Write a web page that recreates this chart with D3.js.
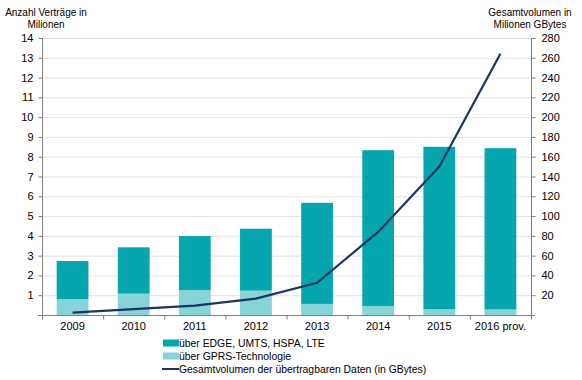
<!DOCTYPE html>
<html>
<head>
<meta charset="utf-8">
<script src="https://cdn.jsdelivr.net/npm/d3@7"></script>
<style>
  body { margin: 0; background: #fff; }
  text { font-family: Arial, "Liberation Sans", sans-serif; fill: #000; }
</style>
</head>
<body>
<svg id="chart" width="582" height="380"></svg>
<script>
const years = ['2009', '2010', '2011', '2012', '2013', '2014', '2015', '2016 prov.'];
const gprs = [0.8, 1.08, 1.26, 1.23, 0.56, 0.45, 0.29, 0.28];
const edge = [1.93, 2.34, 2.73, 3.13, 5.11, 7.88, 8.21, 8.15];
const volume = [2.5, 6, 9.5, 16.5, 32.5, 84, 150, 264];
const leftTicks = d3.range(1, 15);
const rightTicks = d3.range(20, 281, 20);

const width = 582;
const margin = { top: 38, right: 51, bottom: 65, left: 42 };
const x0 = margin.left;
const x1 = width - margin.right;
const yTop = margin.top;
const yBottom = 315;

const svg = d3.select('#chart');

const x = d3.scaleBand().domain(years).range([x0, x1]).paddingInner(0.48).paddingOuter(0.24);
const xBoundary = d3.scaleLinear().domain([0, years.length]).range([x0, x1]);
const yLeft = d3.scaleLinear().domain([0, 14]).range([yBottom, yTop]);
const yRight = d3.scaleLinear().domain([0, 280]).range([yBottom, yTop]);

// gridlines
svg.append('g')
  .selectAll('line')
  .data(leftTicks)
  .enter()
  .append('line')
  .attr('x1', x0)
  .attr('x2', x1)
  .attr('y1', d => yLeft(d) + 0.5)
  .attr('y2', d => yLeft(d) + 0.5)
  .attr('stroke', '#e3e3e3')
  .attr('stroke-width', 1);

// stacked bars
const stack = years.map((y, i) => ({ year: y, gprs: gprs[i], edge: edge[i] }));
const gBars = svg.append('g');
gBars.selectAll('rect.gprs')
  .data(stack)
  .enter()
  .append('rect')
  .attr('class', 'gprs')
  .attr('x', d => x(d.year))
  .attr('width', x.bandwidth())
  .attr('y', d => yLeft(d.gprs))
  .attr('height', d => yLeft(0) - yLeft(d.gprs))
  .attr('fill', '#86d3d8');
gBars.selectAll('rect.edge')
  .data(stack)
  .enter()
  .append('rect')
  .attr('class', 'edge')
  .attr('x', d => x(d.year))
  .attr('width', x.bandwidth())
  .attr('y', d => yLeft(d.gprs + d.edge))
  .attr('height', d => yLeft(d.gprs) - yLeft(d.gprs + d.edge))
  .attr('fill', '#05a6ad');

// line
const line = d3.line()
  .x((d, i) => x(years[i]) + x.bandwidth() / 2)
  .y(d => yRight(d));
svg.append('path')
  .datum(volume)
  .attr('d', line)
  .attr('fill', 'none')
  .attr('stroke', '#1c3566')
  .attr('stroke-width', 2.2);

// axes
const axisColor = '#7f7f7f';
const leftAxis = svg.append('g')
  .attr('transform', `translate(${x0 + 0.5},0)`)
  .call(d3.axisLeft(yLeft).tickValues(leftTicks).tickSize(4).tickPadding(5));
const rightAxis = svg.append('g')
  .attr('transform', `translate(${x1 + 0.5},0)`)
  .call(d3.axisRight(yRight).tickValues(rightTicks).tickSize(4).tickPadding(6));
const xAxis = svg.append('g')
  .attr('transform', `translate(0,${yBottom + 0.5})`)
  .call(d3.axisBottom(x).tickSize(0).tickPadding(7));
xAxis.append('g')
  .selectAll('line')
  .data(d3.range(0, years.length + 1))
  .enter()
  .append('line')
  .attr('x1', d => xBoundary(d) + 0.5)
  .attr('x2', d => xBoundary(d) + 0.5)
  .attr('y1', 0)
  .attr('y2', 4)
  .attr('stroke', axisColor);

[leftAxis, rightAxis, xAxis].forEach(g => {
  g.select('.domain').remove();
  g.selectAll('.tick line').attr('stroke', axisColor);
  g.selectAll('.tick text').attr('font-size', 11).attr('font-family', 'Arial, "Liberation Sans", sans-serif').attr('fill', '#000');
});
svg.append('line').attr('x1', x0 + 0.5).attr('x2', x0 + 0.5).attr('y1', yTop).attr('y2', yBottom + 4).attr('stroke', axisColor);
svg.append('line').attr('x1', x1 + 0.5).attr('x2', x1 + 0.5).attr('y1', yTop).attr('y2', yBottom + 4).attr('stroke', axisColor);
svg.append('line').attr('x1', x0 - 4).attr('x2', x1 + 4).attr('y1', yBottom + 0.5).attr('y2', yBottom + 0.5).attr('stroke', axisColor);

// axis titles
const leftTitle = svg.append('text').attr('text-anchor', 'middle').attr('font-size', 10);
leftTitle.append('tspan').attr('x', 46).attr('y', 16).text('Anzahl Verträge in');
leftTitle.append('tspan').attr('x', 46).attr('y', 28).text('Milionen');
const rightTitle = svg.append('text').attr('text-anchor', 'middle').attr('font-size', 10);
rightTitle.append('tspan').attr('x', 530).attr('y', 16).text('Gesamtvolumen in');
rightTitle.append('tspan').attr('x', 530).attr('y', 28).text('Milionen GBytes');

// legend
const legendItems = [
  { label: 'über EDGE, UMTS, HSPA, LTE', type: 'rect', color: '#05a6ad' },
  { label: 'über GPRS-Technologie', type: 'rect', color: '#86d3d8' },
  { label: 'Gesamtvolumen der übertragbaren Daten (in GBytes)', type: 'line', color: '#1c3566' }
];
const legend = svg.append('g').attr('transform', 'translate(163,343)');
legendItems.forEach((item, i) => {
  const g = legend.append('g').attr('transform', `translate(0,${i * 13})`);
  if (item.type === 'rect') {
    g.append('rect').attr('x', 0).attr('y', -3.5).attr('width', 16).attr('height', 7).attr('fill', item.color);
  } else {
    g.append('line').attr('x1', -1).attr('x2', 16).attr('y1', 0).attr('y2', 0).attr('stroke', item.color).attr('stroke-width', 2);
  }
  g.append('text').attr('x', 16).attr('y', 4).attr('font-size', 10.4).text(item.label);
});
</script>
</body>
</html>
